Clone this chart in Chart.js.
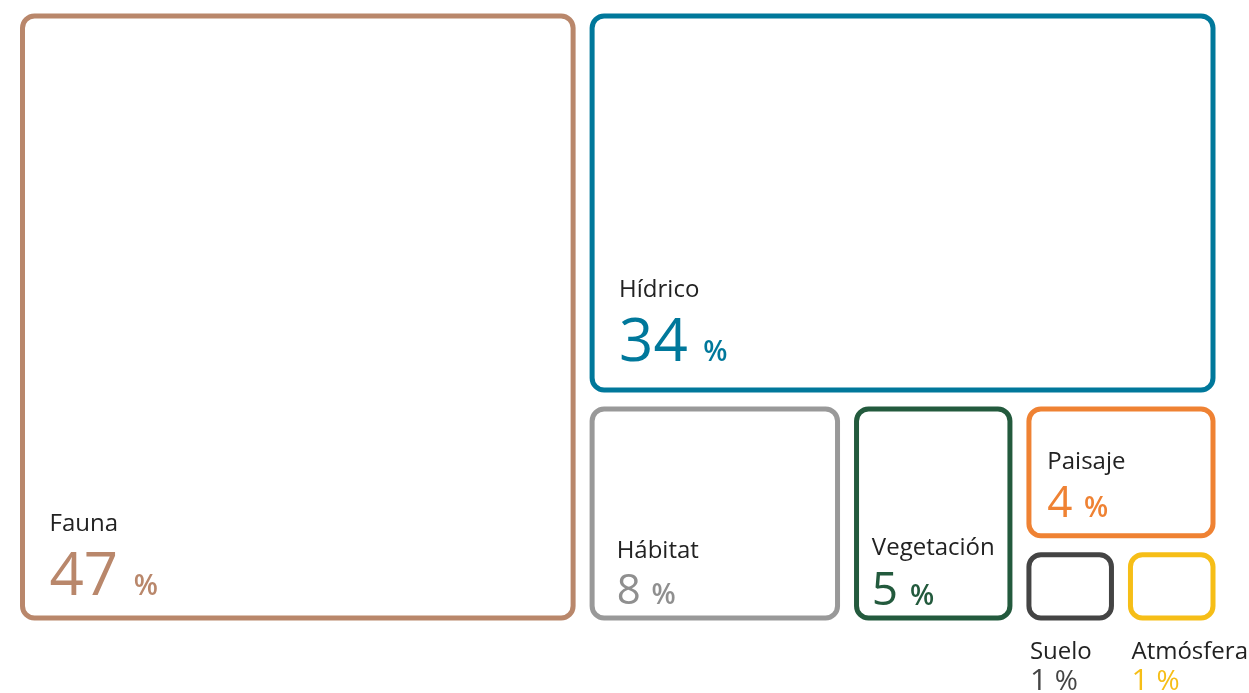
<!DOCTYPE html>
<html lang="es">
<head>
<meta charset="utf-8">
<title>Impactos por componente</title>
<script src="https://cdn.jsdelivr.net/npm/chart.js@4.4.0/dist/chart.umd.min.js"></script>
<style>
  html, body { margin: 0; padding: 0; background: #ffffff; }
  #wrap { width: 1249px; height: 693px; }
</style>
</head>
<body>
<div id="wrap"><canvas id="treemap" width="1249" height="693"></canvas></div>
<script>
// component names and their share (%)
const categories = ["Fauna", "Hídrico", "Hábitat", "Vegetación", "Paisaje", "Suelo", "Atmósfera"];
const values = [47, 34, 8, 5, 4, 1, 1];

// slice-and-dice order: each level splits off these items, direction alternates
const levels = [[0], [1], [2, 3], [4], [5, 6]];

// styles
const boxColors = ["#b9876b", "#00789b", "#999999", "#235a3d", "#ef8233", "#444444", "#f6be17"];
const numberColors = ["#b9876b", "#00789b", "#8f8f8f", "#235a3d", "#ef8233", "#444444", "#f6be17"];
const numberSizes = [60, 60, 42, 46, 44, 30, 30];
const textLift = [23, 29, 14, 13, 19, 0, 0];

const FONT = "'Open Sans', 'Noto Sans', sans-serif";
const GAP = 19;

function layoutTreemap(x0, y0, x1, y1) {
    const rects = [];
    let area = { x0, y0, x1, y1 };
    let horizontal = true;
    levels.forEach((lvl, i) => {
        const rest = levels.slice(i + 1).flat();
        const restSum = rest.reduce((s, k) => s + values[k], 0);
        const parts = lvl.map(k => values[k]);
        if (restSum > 0) parts.push(restSum);
        const total = parts.reduce((a, b) => a + b, 0);
        const span = horizontal ? area.x1 - area.x0 : area.y1 - area.y0;
        const avail = span - GAP * (parts.length - 1);
        let pos = horizontal ? area.x0 : area.y0;
        let next = null;
        parts.forEach((v, j) => {
            const len = avail * v / total;
            const box = horizontal
                ? { x0: pos, x1: pos + len, y0: area.y0, y1: area.y1 }
                : { x0: area.x0, x1: area.x1, y0: pos, y1: pos + len };
            if (j < lvl.length) rects[lvl[j]] = box; else next = box;
            pos += len + GAP;
        });
        if (next) area = next;
        horizontal = !horizontal;
    });
    return rects;
}

// draws the boxes and their labels on top of the (empty) scatter chart
const treemapPlugin = {
    id: "treemap",
    afterDatasetsDraw(chart) {
        const ctx = chart.ctx;
        const xs = chart.scales.x;
        const ys = chart.scales.y;
        const rects = layoutTreemap(
            xs.getPixelForValue(0), ys.getPixelForValue(0),
            xs.getPixelForValue(100), ys.getPixelForValue(100)
        );

        ctx.save();
        rects.forEach((r, i) => {
            const w = r.x1 - r.x0;
            const h = r.y1 - r.y0;
            ctx.beginPath();
            ctx.roundRect(r.x0, r.y0, w, h, 12);
            ctx.lineWidth = 5;
            ctx.strokeStyle = boxColors[i];
            ctx.stroke();

            const numSize = numberSizes[i];
            let tx, labelBase, numBase;
            const small = h < 80;
            if (small) {
                // too small: label goes under the box
                tx = r.x0 + 1;
                labelBase = r.y1 + 41;
                numBase = labelBase + numSize + 1;
            } else {
                tx = r.x0 + Math.min(27, w * 0.1);
                numBase = r.y1 - textLift[i];
                labelBase = numBase - numSize - 4;
            }

            ctx.textBaseline = "alphabetic";
            ctx.textAlign = "left";
            ctx.fillStyle = "#222222";
            ctx.font = "400 24px " + FONT;
            ctx.fillText(categories[i], tx, labelBase);

            ctx.fillStyle = numberColors[i];
            ctx.font = "400 " + numSize + "px " + FONT;
            const num = String(values[i]);
            ctx.fillText(num, tx, numBase);
            const adv = ctx.measureText(num + " ").width;
            ctx.font = (small ? "400 28px " : "600 28px ") + FONT;
            ctx.fillText("%", tx + adv, numBase);
        });
        ctx.restore();
    }
};

new Chart(document.getElementById("treemap"), {
    type: "scatter",
    data: { datasets: [{ data: [] }] },
    options: {
        responsive: false,
        animation: false,
        layout: { padding: { left: 22.5, top: 16, right: 36, bottom: 75 } },
        scales: {
            x: { type: "linear", min: 0, max: 100, display: false },
            y: { type: "linear", min: 0, max: 100, reverse: true, display: false }
        },
        plugins: {
            legend: { display: false },
            tooltip: { enabled: false }
        }
    },
    plugins: [treemapPlugin]
});
</script>
</body>
</html>
